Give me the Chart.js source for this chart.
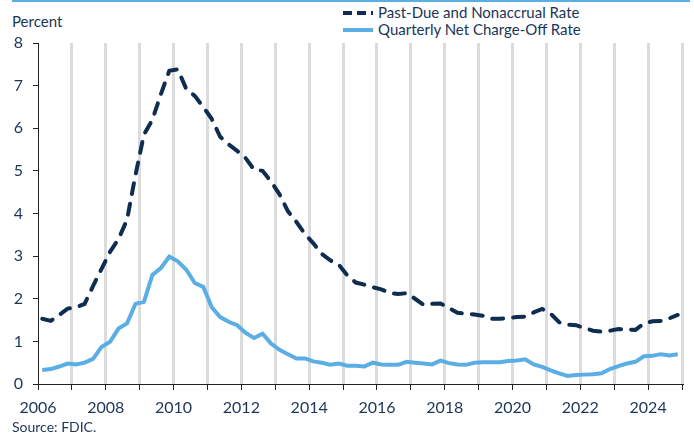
<!DOCTYPE html>
<html>
<head>
<meta charset="utf-8">
<script src="https://cdn.jsdelivr.net/npm/chart.js@4.4.1/dist/chart.umd.min.js"></script>
<style>
  body { margin: 0; background: #fff; font-family: Lato, sans-serif; color: #1c3557; }
  #wrap { position: relative; width: 694px; height: 438px; }
  #topline { position: absolute; left: 12px; right: 4px; top: 0; height: 2px; background: #5aaee3; }
  #unit { position: absolute; left: 12px; top: 12px; font-size: 15px; }
  #source { position: absolute; left: 12px; top: 418px; font-size: 14px; }
  #legend { position: absolute; left: 343px; top: 4px; font-size: 15px; line-height: 17px; }
  #legend div { display: flex; align-items: center; }
  #legend span.s { display: inline-block; width: 30px; height: 4px; margin-right: 5px; }
  #chart { position: absolute; left: 0; top: 0; }
</style>
</head>
<body>
<div id="wrap">
  <div id="topline"></div>
  <div id="unit">Percent</div>
  <div id="legend">
    <div><span class="s" style="background: repeating-linear-gradient(90deg, #0e2d50 0 9px, transparent 9px 14px);"></span>Past-Due and Nonaccrual Rate</div>
    <div><span class="s" style="background:#5aaee3;"></span>Quarterly Net Charge-Off Rate</div>
  </div>
  <canvas id="chart" width="694" height="438"></canvas>
  <div id="source">Source: FDIC.</div>
</div>
<script>
// quarterly, 2006 Q1 .. 2024 Q4
const firstYear = 2006;
const pastDue = [
  1.53, 1.48, 1.62, 1.77, 1.80, 1.88, 2.30, 2.70,
  3.10, 3.40, 3.85, 4.90, 5.85, 6.20, 6.80, 7.35,
  7.38, 6.92, 6.76, 6.50, 6.22, 5.80, 5.62, 5.47,
  5.30, 5.03, 5.00, 4.75, 4.45, 4.05, 3.80, 3.52,
  3.30, 3.05, 2.90, 2.80, 2.55, 2.38, 2.33, 2.27,
  2.22, 2.14, 2.11, 2.13, 2.00, 1.86, 1.88, 1.89,
  1.78, 1.67, 1.65, 1.63, 1.60, 1.53, 1.53, 1.55,
  1.57, 1.58, 1.68, 1.76, 1.65, 1.45, 1.39, 1.38,
  1.31, 1.25, 1.23, 1.25, 1.29, 1.28, 1.27, 1.42,
  1.47, 1.48, 1.54, 1.62
];
const chargeOff = [
  0.33, 0.35, 0.41, 0.48, 0.46, 0.50, 0.59, 0.87,
  0.99, 1.30, 1.42, 1.88, 1.93, 2.56, 2.72, 2.99,
  2.88, 2.68, 2.37, 2.28, 1.80, 1.57, 1.46, 1.38,
  1.20, 1.08, 1.18, 0.95, 0.80, 0.70, 0.60, 0.60,
  0.53, 0.50, 0.45, 0.48, 0.43, 0.43, 0.41, 0.50,
  0.46, 0.45, 0.45, 0.52, 0.50, 0.48, 0.46, 0.55,
  0.49, 0.46, 0.45, 0.50, 0.51, 0.51, 0.51, 0.54,
  0.55, 0.58, 0.46, 0.40, 0.32, 0.25, 0.19, 0.21,
  0.22, 0.23, 0.25, 0.35, 0.42, 0.48, 0.52, 0.65,
  0.66, 0.70, 0.67, 0.70
];
const yearTicks = [2006, 2008, 2010, 2012, 2014, 2016, 2018, 2020, 2022, 2024];

const toPoints = arr => arr.map((v, i) => ({ x: firstYear + 0.125 + i * 0.25, y: v }));

const navy = '#0e2d50';
const light = '#5aaee3';
const textCol = '#1c3557';

new Chart(document.getElementById('chart'), {
  type: 'line',
  data: {
    datasets: [{
      label: 'Past-Due and Nonaccrual Rate',
      data: toPoints(pastDue),
      borderColor: navy,
      borderWidth: 4,
      borderDash: [11, 10],
      borderCapStyle: 'round',
      pointRadius: 0,
      tension: 0
    }, {
      label: 'Quarterly Net Charge-Off Rate',
      data: toPoints(chargeOff),
      borderColor: light,
      borderWidth: 4,
      pointRadius: 0,
      tension: 0
    }]
  },
  options: {
    responsive: false,
    animation: false,
    layout: { padding: { left: 0, right: 12, top: 43, bottom: 0 } },
    plugins: { legend: { display: false }, tooltip: { enabled: false } },
    scales: {
      x: {
        type: 'linear',
        min: 2006,
        max: 2025,
        afterFit: s => { s.height = 54; },
        ticks: {
          stepSize: 1,
          autoSkip: false,
          maxRotation: 0,
          padding: 8,
          color: textCol,
          font: { family: 'Lato', size: 16 },
          callback: v => yearTicks.includes(v) ? String(v) : ''
        },
        grid: {
          color: c => (c.tick && c.tick.value === 2006) ? 'rgba(0,0,0,0)' : '#dcdcdc',
          lineWidth: 3,
          tickColor: '#222',
          tickWidth: 1,
          tickLength: 6
        },
        border: { display: true, color: '#222', width: 1 }
      },
      y: {
        min: 0,
        max: 8,
        afterFit: s => { s.width = 38; },
        ticks: {
          stepSize: 1,
          padding: 10,
          color: textCol,
          font: { family: 'Lato', size: 16 }
        },
        grid: {
          drawOnChartArea: false,
          tickColor: '#222',
          tickLength: 5
        },
        border: { display: true, color: '#222', width: 1 }
      }
    }
  }
});
</script>
</body>
</html>
